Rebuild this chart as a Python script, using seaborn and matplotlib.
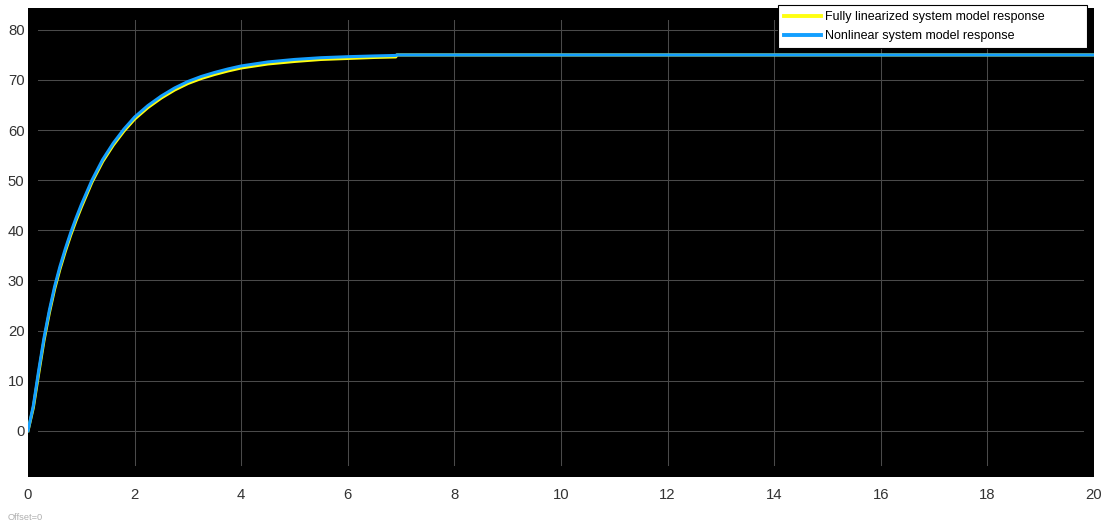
import matplotlib
matplotlib.use("Agg")
import matplotlib.pyplot as plt
import seaborn as sns
import pandas as pd

# Time base (s) and the two step responses
time_s = [0.0, 0.1, 0.2, 0.3, 0.4, 0.5, 0.6, 0.7, 0.8, 0.9, 1.0, 1.2, 1.4, 1.6,
          1.8, 2.0, 2.25, 2.5, 2.75, 3.0, 3.25, 3.5, 3.75, 4.0, 4.5, 5.0, 5.5,
          6.0, 6.5, 6.9, 6.92, 20.0]

linearized = [0.0, 4.6, 11.4, 18.0, 23.5, 28.3, 32.3, 35.8, 39.0, 41.9, 44.6,
              49.6, 53.7, 57.0, 59.8, 62.2, 64.5, 66.4, 68.0, 69.3, 70.3, 71.1,
              71.8, 72.4, 73.2, 73.7, 74.1, 74.3, 74.5, 74.6, 75.0, 75.0]

nonlinear = [0.0, 5.0, 12.0, 18.5, 24.0, 28.8, 32.8, 36.3, 39.5, 42.4, 45.1,
             50.0, 54.1, 57.4, 60.2, 62.6, 64.9, 66.8, 68.4, 69.7, 70.7, 71.5,
             72.2, 72.8, 73.6, 74.1, 74.45, 74.65, 74.8, 74.9, 75.0, 75.0]

series_names = ["Fully linearized system model response",
                "Nonlinear system model response"]
series_colors = ["#ffff11", "#139fff"]

x_ticks = [0, 2, 4, 6, 8, 10, 12, 14, 16, 18, 20]
y_ticks = [0, 10, 20, 30, 40, 50, 60, 70, 80]

df = pd.concat([
    pd.DataFrame({"t": time_s, "value": linearized, "model": series_names[0]}),
    pd.DataFrame({"t": time_s, "value": nonlinear, "model": series_names[1]}),
], ignore_index=True)

plt.rcParams["font.family"] = ["Liberation Sans", "DejaVu Sans"]

W, H = 1106, 524
fig = plt.figure(figsize=(W / 100, H / 100), dpi=100, facecolor="white")
left, right, top, bottom = 28, 1094, 8, 477
ax = fig.add_axes([left / W, 1 - bottom / H, (right - left) / W, (bottom - top) / H])
ax.set_facecolor("black")
for sp in ax.spines.values():
    sp.set_visible(False)

ax.set_xlim(0, 20)
ax.set_ylim(-9.24, 84.37)

# Scope-style grid: lines stop short of the plot edges
gx0, gx1 = 10 / (right - left), 1 - 11 / (right - left)
gy0, gy1 = 12 / (bottom - top), 1 - 12 / (bottom - top)
for yv in y_ticks:
    ax.axhline(yv, xmin=gx0, xmax=gx1, color="#4a4a4a", lw=0.75, zorder=1)
for xv in x_ticks[1:-1]:
    ax.axvline(xv, ymin=gy0, ymax=gy1, color="#4a4a4a", lw=0.75, zorder=1)

for name, color in zip(series_names, series_colors):
    sns.lineplot(data=df[df["model"] == name], x="t", y="value", color=color,
                 lw=2.2, ax=ax, label=name, sort=False, estimator=None, zorder=3)

ax.set_xticks(x_ticks)
ax.set_yticks(y_ticks)
ax.tick_params(length=0, labelsize=10.7, labelcolor="#333333")
ax.tick_params(axis="x", pad=8)
ax.tick_params(axis="y", pad=2.5)
ax.set_xlabel("")
ax.set_ylabel("")

handles, labels = ax.get_legend_handles_labels()
leg = ax.legend(handles, labels, loc="upper left", mode="expand",
                bbox_to_anchor=(778 / W, 1 - 47 / H, 309 / W, 42 / H),
                bbox_transform=fig.transFigure,
                borderaxespad=0, fancybox=False, framealpha=1, facecolor="white",
                edgecolor="black", fontsize=9, handlelength=2.96, handletextpad=0.32,
                labelspacing=0.55, borderpad=0.5)
leg.get_frame().set_linewidth(0.8)
for ln in leg.get_lines():
    ln.set_linewidth(2.8)

fig.text(8 / W, 1 - 518 / H, "Offset=0", fontsize=6.7, color="#b0b0b0",
         va="center", ha="left")

fig.savefig("out.png", dpi=100, facecolor="white")
